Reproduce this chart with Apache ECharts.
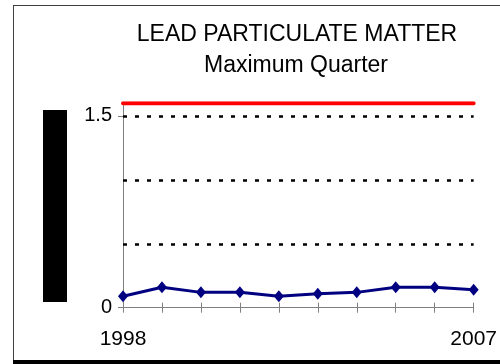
<!DOCTYPE html>
<html>
<head>
<meta charset="utf-8">
<script src="https://cdn.jsdelivr.net/npm/echarts@6/dist/echarts.min.js"></script>
<style>
  html, body { margin: 0; padding: 0; background: #fff; }
  #chart { width: 500px; height: 364px; }
</style>
</head>
<body>
<div id="chart"></div>
<script>
// Years on the horizontal axis
var years = ['1998', '1999', '2000', '2001', '2002', '2003', '2004', '2005', '2006', '2007'];
// Maximum quarterly lead concentration per year
var maxQuarter = [0.09, 0.16, 0.12, 0.12, 0.09, 0.11, 0.12, 0.16, 0.16, 0.14];
// Reference level drawn across the top of the plot
var standardLevel = [1.6, 1.6, 1.6, 1.6, 1.6, 1.6, 1.6, 1.6, 1.6, 1.6];
// Dotted guide levels and labelled y ticks
var guideLevels = [0.5, 1.0, 1.5];
var yLabelValues = [0, 1.5];
var yMax = 1.6;

var FONT = '"Liberation Sans", Arial, sans-serif';
var chart = echarts.init(document.getElementById('chart'), null, { renderer: 'canvas' });

chart.setOption({
  animation: false,
  backgroundColor: '#ffffff',
  grid: { left: 123, right: 21, top: 103.2, bottom: 56.3, containLabel: false },
  xAxis: [
    {
      type: 'category',
      data: years,
      boundaryGap: false,
      axisLine: { show: true, lineStyle: { color: '#808080', width: 1 } },
      axisTick: { show: true, interval: 0, length: 5, lineStyle: { color: '#808080' } },
      axisLabel: {
        interval: function (i) { return i === 0 || i === years.length - 1; },
        margin: 21,
        fontFamily: FONT, fontSize: 21, color: '#000'
      },
      splitLine: { show: false }
    },
    {
      // inner half of the crossing tick marks
      type: 'category',
      data: years,
      boundaryGap: false,
      position: 'bottom',
      axisLine: { show: false },
      axisTick: { show: true, inside: true, interval: 0, length: 5, lineStyle: { color: '#808080' } },
      axisLabel: { show: false },
      splitLine: { show: false }
    }
  ],
  yAxis: {
    type: 'value',
    min: 0,
    max: yMax,
    interval: 0.5,
    axisLine: { show: true, lineStyle: { color: '#808080', width: 1 } },
    axisTick: { show: true, length: 5, customValues: yLabelValues, lineStyle: { color: '#808080' } },
    axisLabel: {
      customValues: yLabelValues,
      margin: 11,
      fontFamily: FONT, fontSize: 20, color: '#000'
    },
    splitLine: { show: false }
  },
  series: [
    {
      name: 'Standard',
      type: 'line',
      data: standardLevel,
      symbol: 'none',
      lineStyle: { color: '#ff0000', width: 4, cap: 'round' },
      z: 3,
      silent: true
    },
    {
      name: 'Maximum Quarter',
      type: 'line',
      data: maxQuarter,
      symbol: 'diamond',
      symbolSize: [10, 12],
      itemStyle: { color: '#000080' },
      lineStyle: { color: '#000080', width: 3 },
      z: 4,
      markLine: {
        silent: true,
        symbol: 'none',
        label: { show: false },
        lineStyle: { color: '#000', type: [4, 8], width: 2.5, opacity: 1 },
        data: guideLevels.map(function (v) { return { yAxis: v }; })
      }
    }
  ],
  graphic: [
    { type: 'line', shape: { x1: 13.5, y1: 5, x2: 13.5, y2: 361 }, style: { stroke: '#404040', lineWidth: 1 } },
    { type: 'line', shape: { x1: 13, y1: 5.5, x2: 500, y2: 5.5 }, style: { stroke: '#404040', lineWidth: 1 } },
    { type: 'line', shape: { x1: 13, y1: 362, x2: 500, y2: 362 }, style: { stroke: '#000', lineWidth: 4 } },
    { type: 'rect', shape: { x: 43, y: 110, width: 24, height: 192 }, style: { fill: '#000' } },
    {
      type: 'text', x: 297, y: 35,
      style: { text: 'LEAD PARTICULATE MATTER', fontFamily: FONT, fontSize: 23, fill: '#000', align: 'center', verticalAlign: 'middle' }
    },
    {
      type: 'text', x: 296, y: 66,
      style: { text: 'Maximum Quarter', fontFamily: FONT, fontSize: 23, fill: '#000', align: 'center', verticalAlign: 'middle' }
    }
  ]
});
</script>
</body>
</html>
